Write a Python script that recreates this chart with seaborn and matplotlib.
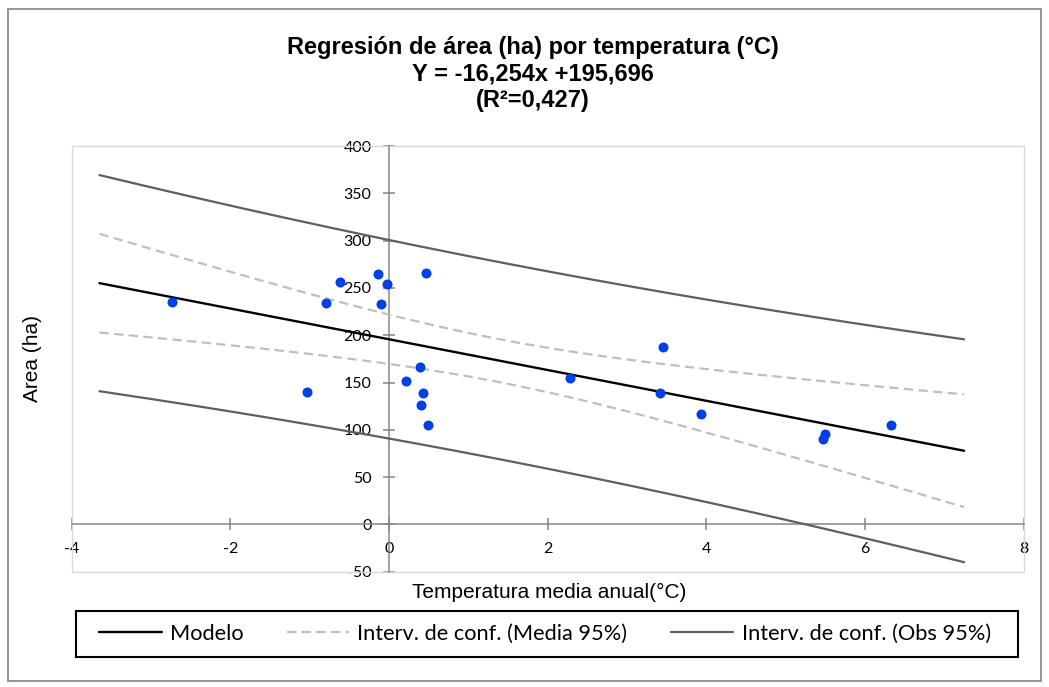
import numpy as np
import pandas as pd
import matplotlib
matplotlib.use("Agg")
import matplotlib.pyplot as plt
import seaborn as sns
from matplotlib.patches import Rectangle
from matplotlib.lines import Line2D

# ---------------- data ----------------
temperatura = [-2.74, -1.04, -0.80, -0.62, -0.14, -0.03, -0.10, 0.47, 0.39, 0.22,
               0.43, 0.40, 0.49, 3.46, 2.28, 3.42, 3.93, 5.50, 5.47, 6.33]
area = [235.5, 140.0, 234.0, 256.0, 265.0, 254.0, 232.6, 265.5, 166.0, 152.0,
        138.4, 126.0, 104.8, 187.0, 154.6, 138.7, 116.8, 96.0, 90.7, 105.5]

slope = -16.254
intercept = 195.696
r2 = 0.427
line_range = [-3.65, 7.25]      # x extent of the model / interval lines
t_crit = 2.101                  # Student t (0.975, n-2 = 18)

x_ticks = [-4, -2, 0, 2, 4, 6, 8]
y_ticks = [-50, 0, 50, 100, 150, 200, 250, 300, 350, 400]

title = "Regresión de área (ha) por temperatura (°C)\nY = -16,254x +195,696\n(R²=0,427)"
x_label = "Temperatura media anual(°C)"
y_label = "Area (ha)"
legend_labels = ["Modelo", "Interv. de conf. (Media 95%)", "Interv. de conf. (Obs 95%)"]

# ---------------- regression intervals computed from the data ----------------
x = np.asarray(temperatura)
y = np.asarray(area)
n = len(x)
resid = y - (intercept + slope * x)
s = np.sqrt(np.sum(resid ** 2) / (n - 2))
sxx = np.sum((x - x.mean()) ** 2)
xx = np.linspace(line_range[0], line_range[1], 200)
fit = intercept + slope * xx
h_mean = t_crit * s * np.sqrt(1 / n + (xx - x.mean()) ** 2 / sxx)
h_obs = t_crit * s * np.sqrt(1 + 1 / n + (xx - x.mean()) ** 2 / sxx)
lines = pd.DataFrame({"x": xx, "fit": fit,
                      "m_lo": fit - h_mean, "m_hi": fit + h_mean,
                      "o_lo": fit - h_obs, "o_hi": fit + h_obs})
pts = pd.DataFrame({"Temperatura": x, "Area": y})

# ---------------- style ----------------
sns.set_theme(style="white")
plt.rcParams["font.family"] = ["Lato", "DejaVu Sans"]
plt.rcParams["axes.unicode_minus"] = False
plt.rcParams["text.color"] = "black"

W, H = 1049, 687
fig = plt.figure(figsize=(W / 100, H / 100), dpi=100)
fig.patch.set_facecolor("white")

ax_l, ax_r, ax_t, ax_b = 71.7, 1023.6, 146.0, 571.7
ax = fig.add_axes([ax_l / W, (H - ax_b) / H, (ax_r - ax_l) / W, (ax_b - ax_t) / H])
ax.set_facecolor("white")

OBS_C = "#5F5F5F"
MEAN_C = "#BFBFBF"
PT_C = "#0040E6"
DASH = (0, (4.2, 2.4))

for col in ["o_lo", "o_hi"]:
    sns.lineplot(data=lines, x="x", y=col, ax=ax, color=OBS_C, lw=1.6, sort=False, zorder=3)
for col in ["m_lo", "m_hi"]:
    sns.lineplot(data=lines, x="x", y=col, ax=ax, color=MEAN_C, lw=1.6, sort=False,
                 linestyle=DASH, zorder=3)
sns.lineplot(data=lines, x="x", y="fit", ax=ax, color="black", lw=1.7, sort=False, zorder=4)
sns.scatterplot(data=pts, x="Temperatura", y="Area", ax=ax, color=PT_C, s=52,
                edgecolor=PT_C, linewidth=0, zorder=5)

ax.set_xlim(x_ticks[0], x_ticks[-1])
ax.set_ylim(y_ticks[0], y_ticks[-1])
ax.set_xticks(x_ticks)
ax.set_yticks(y_ticks)
ax.set_xlabel("")
ax.set_ylabel("")

# axes crossing at zero (Excel style)
AX_C = "#868686"
for side in ["top", "right"]:
    ax.spines[side].set_visible(False)
ax.spines["left"].set_position(("data", 0))
ax.spines["bottom"].set_position(("data", 0))
for side in ["left", "bottom"]:
    ax.spines[side].set_color(AX_C)
    ax.spines[side].set_linewidth(1.1)
    ax.spines[side].set_zorder(2)
ax.tick_params(axis="both", which="major", bottom=True, left=True, top=False, right=False,
               direction="inout", length=8, width=1.1, color=AX_C,
               pad=8.5, labelsize=11.5, labelcolor="black")

# plot-area frame
ax.add_patch(Rectangle((0, 0), 1, 1, transform=ax.transAxes, fill=False,
                       ec="#D9D9D9", lw=1.0, clip_on=False, zorder=1))

# titles
fig.text(533 / W, 1 - 74 / H, title, ha="center", va="center", color="black",
         family=["Liberation Sans", "DejaVu Sans"], fontsize=17, fontweight="bold",
         linespacing=1.17)
fig.text(549 / W, 1 - 592 / H, x_label, ha="center", va="center", color="black",
         family=["Liberation Sans", "DejaVu Sans"], fontsize=15)
fig.text(32 / W, 1 - 358 / H, y_label, ha="center", va="center", rotation=90,
         color="black", family=["Liberation Sans", "DejaVu Sans"], fontsize=15)

# legend
handles = [Line2D([], [], color="black", lw=1.7),
           Line2D([], [], color=MEAN_C, lw=1.6, linestyle=DASH),
           Line2D([], [], color=OBS_C, lw=1.6)]
leg = fig.legend(handles, legend_labels, loc="center", bbox_to_anchor=(545 / W, 1 - 634 / H),
                 ncol=3, frameon=False, fontsize=15.7, handlelength=2.85, handletextpad=0.38,
                 columnspacing=2.0, borderpad=0)
for t in leg.get_texts():
    t.set_color("black")
fig.add_artist(Rectangle((76 / W, 1 - 657 / H), (1018 - 76) / W, 46 / H,
                         transform=fig.transFigure, fill=False, ec="black", lw=1.5))

# outer chart border
fig.add_artist(Rectangle((8 / W, 1 - 681 / H), (1041 - 8) / W, (681 - 9) / H,
                         transform=fig.transFigure, fill=False, ec="#8C8C8C", lw=1.3))

fig.savefig("out.png", dpi=100, facecolor="white")
